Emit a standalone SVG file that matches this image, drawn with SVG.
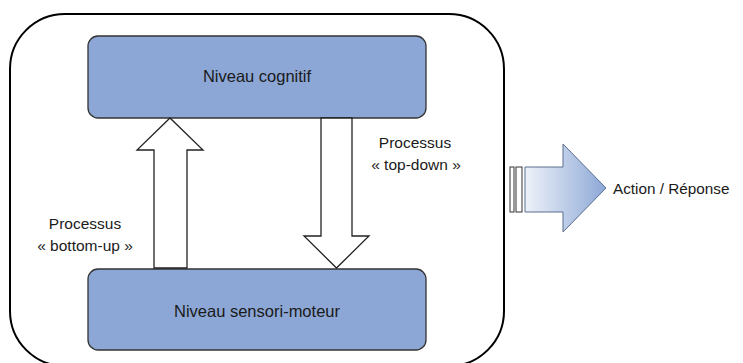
<svg xmlns="http://www.w3.org/2000/svg" width="743" height="363" viewBox="0 0 743 363">
<style>
.t{font-family:"Liberation Sans",Arial,sans-serif;fill:#1a1a1a;}
.box{fill:#8CA7D5;stroke:#333;stroke-width:1.3;}
.hollow{fill:#fff;stroke:#222;stroke-width:1.3;stroke-linejoin:miter;}
</style>
<defs>
<linearGradient id="g" x1="0" y1="0" x2="1" y2="0">
<stop offset="0" stop-color="#eef2f9"/>
<stop offset="1" stop-color="#8DA8D6"/>
</linearGradient>
</defs>
<rect x="0" y="0" width="743" height="363" fill="#fff"/>
<g id="frame"><rect x="10" y="14" width="494" height="352" rx="55" ry="55" fill="none" stroke="#000" stroke-width="2"/></g>
<g id="cognitif">
<rect class="box" x="88" y="36" width="338" height="82" rx="10"/>
<text class="t" x="257" y="82" font-size="16.5" text-anchor="middle">Niveau cognitif</text>
</g>
<g id="sensori">
<rect class="box" x="88" y="269" width="338" height="81" rx="10"/>
<text class="t" x="257" y="317" font-size="16.5" text-anchor="middle">Niveau sensori-moteur</text>
</g>
<g id="connectors">
<polygon class="hollow" points="154,268 187,268 187,150 203,150 170,118 137,150 154,150"/>
<polygon class="hollow" points="321,118 352,118 352,236 369,236 336.5,268 304,236 321,236"/>
</g>
<g id="label-topdown">
<text class="t" x="415" y="148" font-size="15.5" text-anchor="middle">Processus</text>
<text class="t" x="416" y="170" font-size="15.5" text-anchor="middle">« top-down »</text>
</g>
<g id="label-bottomup">
<text class="t" x="85" y="229" font-size="15.5" text-anchor="middle">Processus</text>
<text class="t" x="85" y="251" font-size="15.5" text-anchor="middle">« bottom-up »</text>
</g>
<g id="output">
<rect x="510" y="167" width="4" height="45" fill="#fff" stroke="#333" stroke-width="1"/>
<rect x="516" y="167" width="6" height="45" fill="#fff" stroke="#333" stroke-width="1"/>
<polygon points="525,167 563,167 563,144 606,188 563,232 563,212 525,212" fill="url(#g)" stroke="#5a6f90" stroke-width="1"/>
<text class="t" x="613" y="194" font-size="15.3">Action / Réponse</text>
</g>
</svg>
